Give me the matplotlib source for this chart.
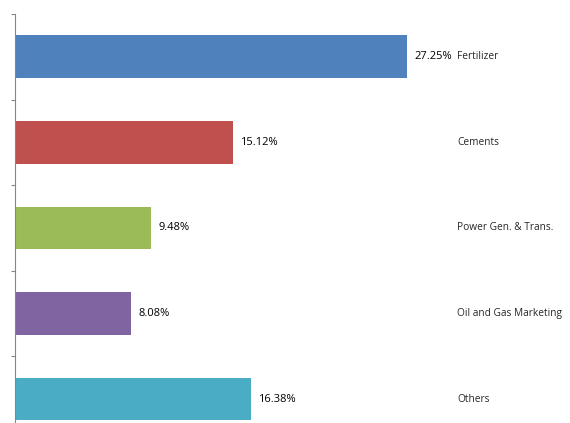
import matplotlib.pyplot as plt

# sector shares (%)
sectors = ['Fertilizer', 'Cements', 'Power Gen. & Trans.', 'Oil and Gas Marketing', 'Others']
shares = [27.25, 15.12, 9.48, 8.08, 16.38]
colors = ['#4F81BD', '#C0504D', '#9BBB59', '#8064A2', '#4BACC6']

plt.rcParams['font.family'] = ['Open Sans', 'DejaVu Sans']

fig = plt.figure(figsize=(5.70, 4.23), dpi=100)
ax = fig.add_axes([15 / 570, 0, 1 - 15 / 570, 1 - 14 / 423])

pos = list(range(len(sectors)))
ax.barh(pos, shares, height=0.5, color=colors)

for i, v in enumerate(shares):
    ax.text(v + 0.5, i, '%.2f%%' % v, va='center', ha='left', fontsize=8.0, color='#000000')
    ax.text(30.75, i, sectors[i], va='center', ha='left', fontsize=7.3, color='#262626')

ax.set_xlim(0, 555 / 14.39)
ax.set_ylim(4.28, -0.5)
ax.set_yticks([p - 0.5 for p in pos])
ax.set_yticklabels([])
ax.set_xticks([])
for s in ['top', 'right', 'bottom']:
    ax.spines[s].set_visible(False)
ax.spines['left'].set_color('#868686')
ax.tick_params(axis='y', direction='out', length=3, color='#868686')

fig.savefig('out.png', dpi=100)
